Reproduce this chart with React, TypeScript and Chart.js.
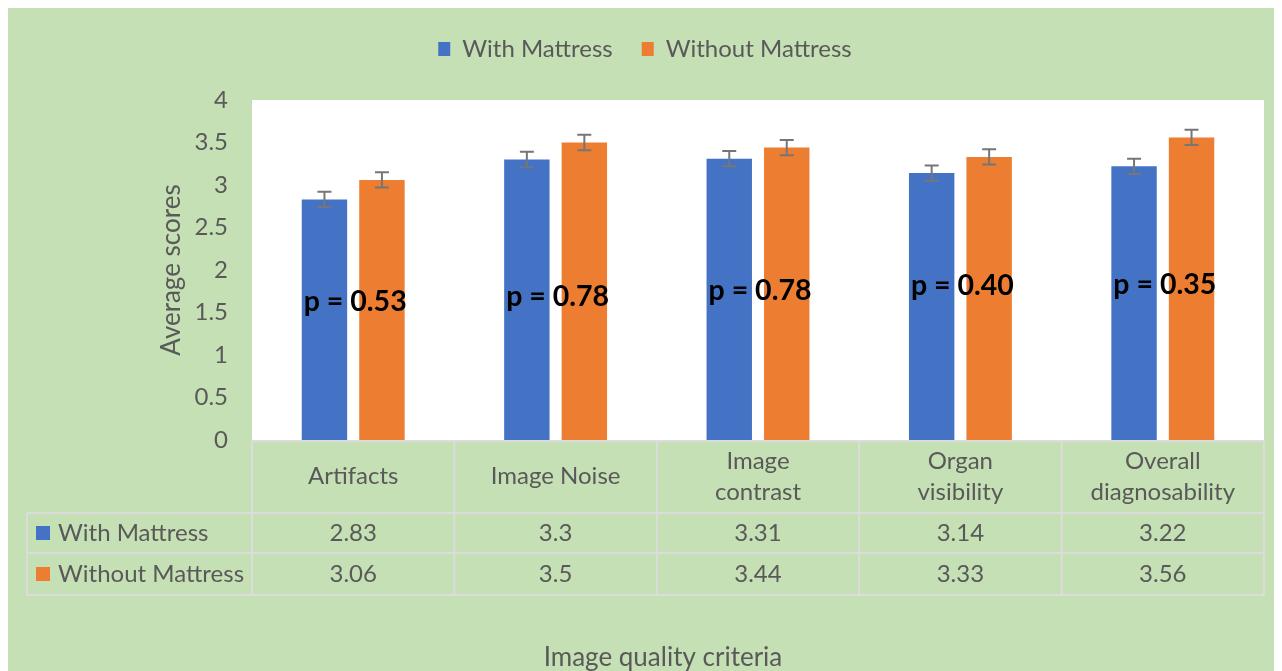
import React, { useEffect, useRef } from "react";
import { Chart, registerables } from "chart.js";

Chart.register(...registerables);

const categoryLines: string[][] = [
  ["Artifacts"],
  ["Image Noise"],
  ["Image", "contrast"],
  ["Organ", "visibility"],
  ["Overall", "diagnosability"],
];
const categories = categoryLines.map((l) => l.join(" "));
const seriesNames = ["With Mattress", "Without Mattress"];
const withMattress = [2.83, 3.3, 3.31, 3.14, 3.22];
const withoutMattress = [3.06, 3.5, 3.44, 3.33, 3.56];
const withMattressErr = [0.09, 0.09, 0.09, 0.09, 0.09];
const withoutMattressErr = [0.09, 0.09, 0.09, 0.09, 0.09];
const pLabels = ["p = 0.53", "p = 0.78", "p = 0.78", "p = 0.40", "p = 0.35"];
const pLabelY = [1.63, 1.68, 1.75, 1.81, 1.83];
const xTitle = "Image quality criteria";
const yTitle = "Average scores";
const yMin = 0;
const yMax = 4;
const yStep = 0.5;

const BLUE = "#4472c4";
const ORANGE = "#ed7d31";
const GREEN = "#c5e0b4";
const TEXT = "#595959";
const ERR = "#767676";
const LINE = "#dcdcdc";
const FONT = "Lato, 'Open Sans', sans-serif";
const LABEL_SIZE = 24;
const TITLE_SIZE = 26;

const colors = [BLUE, ORANGE];
const seriesValues = [withMattress, withoutMattress];
const seriesErrors = [withMattressErr, withoutMattressErr];

const plotBg = {
  id: "plotBg",
  beforeDatasetsDraw(chart: any) {
    const { ctx, chartArea } = chart;
    ctx.save();
    ctx.fillStyle = "#ffffff";
    ctx.fillRect(chartArea.left, chartArea.top, chartArea.right - chartArea.left, chartArea.bottom - chartArea.top);
    ctx.restore();
  },
};

const errorBars = {
  id: "errorBars",
  afterDatasetsDraw(chart: any) {
    const { ctx } = chart;
    const y = chart.scales.y;
    ctx.save();
    ctx.strokeStyle = ERR;
    ctx.lineWidth = 2;
    chart.data.datasets.forEach((ds: any, di: number) => {
      const meta = chart.getDatasetMeta(di);
      meta.data.forEach((bar: any, i: number) => {
        const v = seriesValues[di][i];
        const e = seriesErrors[di][i];
        const top = y.getPixelForValue(v + e);
        const bot = y.getPixelForValue(v - e);
        const cap = 7;
        ctx.beginPath();
        ctx.moveTo(bar.x, top);
        ctx.lineTo(bar.x, bot);
        ctx.moveTo(bar.x - cap, top);
        ctx.lineTo(bar.x + cap, top);
        ctx.moveTo(bar.x - cap, bot);
        ctx.lineTo(bar.x + cap, bot);
        ctx.stroke();
      });
    });
    ctx.restore();
  },
};

const pValues = {
  id: "pValues",
  afterDatasetsDraw(chart: any) {
    const { ctx } = chart;
    const x = chart.scales.x;
    const y = chart.scales.y;
    ctx.save();
    ctx.fillStyle = "#000000";
    ctx.font = `bold 28.5px ${FONT}`;
    ctx.textAlign = "center";
    ctx.textBaseline = "middle";
    pLabels.forEach((t, i) => {
      ctx.fillText(t, x.getPixelForValue(i) + 2, y.getPixelForValue(pLabelY[i]));
    });
    ctx.restore();
  },
};

const dataTable = {
  id: "dataTable",
  afterDraw(chart: any) {
    const { ctx, chartArea } = chart;
    const x = chart.scales.x;
    const n = categories.length;
    const colW = (chartArea.right - chartArea.left) / n;
    const top = chartArea.bottom;
    const headH = 73;
    const rowH = [40, 42];
    const tableLeft = 19;
    const r1 = top + headH;
    const r2 = r1 + rowH[0];
    const r3 = r2 + rowH[1];
    ctx.save();
    ctx.strokeStyle = LINE;
    ctx.lineWidth = 2;
    ctx.beginPath();
    ctx.moveTo(chartArea.left, top + 1);
    ctx.lineTo(chartArea.right, top + 1);
    [r1, r2, r3].forEach((yy) => {
      ctx.moveTo(tableLeft, yy);
      ctx.lineTo(chartArea.right, yy);
    });
    for (let i = 0; i <= n; i++) {
      const xx = chartArea.left + i * colW;
      ctx.moveTo(xx, top);
      ctx.lineTo(xx, r3);
    }
    ctx.moveTo(tableLeft, r1);
    ctx.lineTo(tableLeft, r3);
    ctx.stroke();

    ctx.fillStyle = TEXT;
    ctx.font = `${LABEL_SIZE}px ${FONT}`;
    ctx.textAlign = "center";
    ctx.textBaseline = "middle";
    categoryLines.forEach((lines, i) => {
      const cx = x.getPixelForValue(i);
      const cy = top + headH / 2;
      const lh = 31;
      lines.forEach((ln, k) => {
        ctx.fillText(ln, cx, cy + (k - (lines.length - 1) / 2) * lh);
      });
    });
    const rowsY = [r1 + rowH[0] / 2, r2 + rowH[1] / 2];
    seriesValues.forEach((vals, si) => {
      vals.forEach((v, i) => {
        ctx.fillText(String(v), x.getPixelForValue(i), rowsY[si]);
      });
    });
    ctx.textAlign = "left";
    seriesNames.forEach((name, si) => {
      ctx.fillStyle = colors[si];
      ctx.fillRect(tableLeft + 9, rowsY[si] - 7, 14, 14);
      ctx.fillStyle = TEXT;
      ctx.fillText(name, tableLeft + 31, rowsY[si]);
    });

    // x axis title, centred on the whole chart box (as in the reference)
    ctx.textAlign = "center";
    ctx.font = `${TITLE_SIZE}px ${FONT}`;
    ctx.fillText(xTitle, chart.width / 2 + 18, chart.scales.x.bottom - TITLE_SIZE / 2);
    ctx.restore();
  },
};

export default function App() {
  const ref = useRef<HTMLCanvasElement | null>(null);
  useEffect(() => {
    if (!ref.current) return;
    const chart = new Chart(ref.current, {
      type: "bar",
      data: {
        labels: categories,
        datasets: seriesNames.map((name, i) => ({
          label: name,
          data: seriesValues[i],
          backgroundColor: colors[i],
          borderWidth: 0,
          categoryPercentage: 0.568,
          barPercentage: 0.79,
        })),
      },
      options: {
        animation: false,
        responsive: true,
        maintainAspectRatio: false,
        layout: { padding: { top: 0, right: 18, bottom: 0, left: 18 } },
        plugins: {
          legend: {
            position: "top",
            labels: {
              boxWidth: 12,
              boxHeight: 14,
              padding: 29,
              color: TEXT,
              font: { family: FONT, size: LABEL_SIZE },
            },
          },
          subtitle: {
            display: true,
            text: "",
            weight: 500,
            padding: 0,
            font: { size: 29, lineHeight: 1 },
          } as any,
          tooltip: { enabled: false },
        },
        scales: {
          x: {
            grid: { display: false },
            border: { display: false },
            ticks: { display: false },
            title: {
              display: true,
              text: xTitle,
              color: "rgba(0,0,0,0)",
              font: { family: FONT, size: TITLE_SIZE, lineHeight: 1 },
              padding: { top: 197, bottom: 0 },
            },
          },
          y: {
            min: yMin,
            max: yMax,
            grid: { display: false },
            border: { display: false },
            ticks: {
              stepSize: yStep,
              padding: 16,
              color: TEXT,
              font: { family: FONT, size: LABEL_SIZE },
              callback: (v: any) => String(v),
            },
            title: {
              display: true,
              text: yTitle,
              color: TEXT,
              font: { family: FONT, size: TITLE_SIZE, lineHeight: 1 },
              padding: { top: 133, bottom: 0 },
            },
            afterFit: (scale: any) => {
              scale.width = 226;
            },
          },
        },
      },
      plugins: [plotBg, errorBars, pValues, dataTable],
    });
    return () => chart.destroy();
  }, []);
  return (
    <>
      <style>{"html,body{overflow:hidden}"}</style>
      <div style={{ width: 1274, height: 663, background: GREEN, position: "relative" }}>
        <canvas ref={ref} />
      </div>
    </>
  );
}
